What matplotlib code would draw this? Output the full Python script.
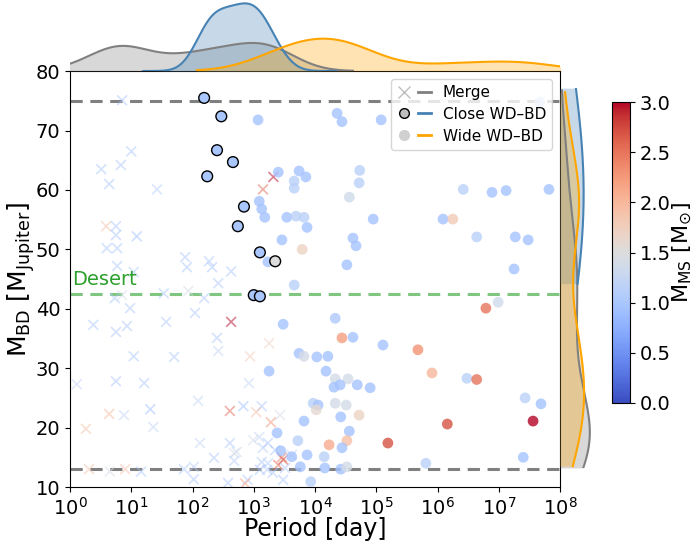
import numpy as np
import matplotlib
matplotlib.use('Agg')
import matplotlib.pyplot as plt
from matplotlib.lines import Line2D
from matplotlib.legend_handler import HandlerTuple
from matplotlib.ticker import LogLocator

# log10(period/day), M_BD [M_Jup], M_MS [M_sun]
merge_logP = [0.85, 1.00, 0.51, 0.83, 0.64, 1.42, 0.59, 0.75, 0.75, 1.09, 0.60, 0.77, 0.77, 1.04,
              1.88, 1.91, 2.27, 2.32, 2.63, 2.42, 0.73, 0.85, 0.98, 1.53, 1.93, 2.19, 0.38, 0.75,
              0.93, 1.57, 2.04, 2.63, 2.40, 2.42, 1.04, 1.70, 0.11, 0.75, 1.21, 2.09, 1.31, 2.61,
              0.64, 0.88, 1.36, 0.26, 2.12, 2.61, 2.35, 2.68, 2.68, 0.31, 0.65, 0.90, 1.16, 1.86,
              2.02, 2.02, 3.32, 3.15, 3.25, 2.94, 2.92, 2.83, 3.13, 3.04, 3.28, 3.43, 2.99, 3.09,
              3.23, 3.15, 3.35, 3.46, 3.48, 3.40, 3.13, 3.23, 3.10, 3.22, 3.31, 3.48, 2.90, 2.86,
              3.62, 3.51, 2.72, 2.58]
merge_mbd = [75.1, 66.5, 63.5, 64.2, 61.0, 60.1, 53.9, 53.9, 52.4, 52.2, 50.2, 50.2, 47.2, 46.2,
             48.7, 47.0, 48.0, 47.0, 46.3, 44.3, 41.8, 42.3, 40.1, 42.6, 43.0, 41.8, 37.3, 36.1,
             37.1, 37.8, 39.3, 37.8, 35.1, 32.9, 32.0, 31.9, 27.3, 27.8, 27.5, 24.5, 23.1, 22.8,
             22.3, 22.1, 20.1, 19.8, 17.4, 17.4, 14.9, 15.7, 14.4, 13.0, 12.6, 13.0, 12.6, 13.0,
             13.4, 11.3, 62.2, 60.1, 34.2, 32.0, 27.5, 23.6, 23.6, 22.6, 20.9, 22.1, 17.9, 18.4,
             17.4, 16.6, 16.2, 15.0, 14.6, 13.7, 14.2, 14.0, 12.9, 12.9, 12.4, 11.2, 11.2, 10.6,
             15.4, 13.2, 15.9, 10.7]
merge_mms = [1.0, 1.0, 1.0, 1.0, 1.0, 1.1, 1.9, 1.0, 1.0, 0.9, 1.0, 1.0, 1.0, 1.0,
             1.0, 1.0, 1.0, 1.0, 1.0, 1.0, 1.0, 1.4, 1.0, 1.0, 1.4, 1.0, 1.0, 1.0,
             1.0, 1.0, 1.0, 3.0, 1.0, 1.2, 1.0, 1.0, 1.2, 1.0, 1.0, 1.2, 0.9, 2.6,
             2.0, 1.2, 1.2, 1.9, 1.2, 1.0, 1.0, 1.4, 1.1, 1.9, 1.4, 1.9, 1.0, 1.0,
             1.1, 1.0, 3.0, 2.6, 1.7, 1.8, 1.2, 0.9, 1.0, 1.9, 2.3, 1.4, 1.4, 1.2,
             1.0, 1.1, 1.0, 2.5, 2.7, 2.6, 1.0, 1.1, 1.0, 1.1, 1.0, 1.0, 1.0, 2.2,
             1.2, 1.0, 1.3, 1.0]

close_logP = [2.19, 2.47, 2.40, 2.66, 2.24, 2.74, 2.84, 3.10, 3.35, 3.00, 3.10]
close_mbd = [75.5, 72.4, 66.7, 64.7, 62.3, 53.9, 57.2, 49.5, 48.0, 42.3, 42.1]
close_mms = [1.0, 1.0, 1.0, 1.0, 1.0, 1.0, 1.0, 1.0, 1.5, 1.0, 1.0]

wide_logP = [3.07, 4.36, 4.44, 5.08, 3.40, 3.74, 3.85, 4.73, 3.66, 3.66, 4.72, 4.56, 3.09, 3.13,
             3.18, 3.54, 3.69, 3.82, 3.87, 4.95, 3.46, 4.62, 4.67, 3.79, 3.23, 4.52, 6.42, 6.89,
             7.12, 7.82, 6.09, 6.25, 6.64, 7.27, 7.48, 7.25, 6.99, 6.79, 3.66, 3.48, 4.33, 4.44,
             4.62, 5.11, 3.74, 3.82, 4.03, 4.21, 3.25, 4.18, 4.33, 4.54, 4.31, 4.41, 4.69, 4.90,
             3.97, 4.05, 4.02, 4.33, 4.51, 4.72, 4.42, 3.82, 4.56, 3.38, 3.72, 4.23, 4.52, 4.44,
             5.19, 3.44, 3.62, 3.87, 4.15, 3.76, 4.16, 4.42, 4.52, 3.93, 5.68, 5.91, 6.48, 6.64,
             7.43, 7.69, 7.56, 6.16, 5.81, 7.40, 7.67]
wide_mbd = [71.8, 72.9, 71.5, 71.8, 63.0, 63.2, 62.2, 63.3, 61.5, 60.3, 61.2, 58.8, 58.1, 56.8,
            55.4, 55.4, 55.6, 55.4, 53.7, 55.1, 51.6, 51.9, 50.6, 50.0, 47.9, 47.4, 60.1, 59.6,
            59.9, 60.1, 55.1, 55.1, 52.1, 52.1, 51.6, 46.7, 41.1, 40.1, 44.0, 37.4, 38.4, 35.1,
            35.2, 33.9, 32.5, 32.0, 31.9, 32.0, 29.5, 29.5, 28.2, 28.2, 26.8, 27.2, 27.2, 26.7,
            24.1, 23.8, 23.0, 24.1, 23.8, 22.1, 21.8, 21.1, 19.4, 19.1, 17.8, 17.1, 17.8, 16.6,
            17.4, 16.1, 15.1, 15.4, 15.1, 13.4, 13.2, 13.0, 13.4, 10.9, 33.1, 29.2, 28.3, 28.1,
            25.0, 24.0, 21.1, 20.6, 14.0, 15.0, 74.8]
wide_mms = [0.95, 0.95, 0.95, 0.95, 0.95, 0.95, 0.95, 1.15, 1.15, 1.15, 1.15, 1.35, 0.95, 0.95,
            0.95, 0.95, 1.15, 1.15, 0.95, 0.95, 0.95, 0.95, 0.95, 1.7, 0.95, 0.95, 1.15, 0.95,
            0.95, 0.95, 0.95, 1.8, 1.15, 0.95, 0.95, 0.95, 1.35, 2.5, 1.15, 0.95, 1.05, 2.2,
            0.95, 0.95, 0.95, 1.4, 0.95, 0.95, 0.95, 0.95, 1.4, 1.4, 0.95, 0.95, 0.95, 0.95,
            1.15, 0.95, 1.6, 1.4, 1.4, 1.7, 0.95, 0.95, 0.95, 0.95, 1.15, 2.1, 1.9, 0.95,
            2.7, 0.95, 0.95, 0.95, 1.15, 0.95, 0.95, 0.95, 1.4, 1.15, 2.3, 2.0, 1.15, 2.5,
            1.15, 0.95, 3.0, 2.7, 1.15, 0.95, 1.15]

desert = 42.5
merge_limits = [13, 75]


def kde(vals, grid, adjust=1.0):
    vals = np.asarray(vals)
    bw = adjust * vals.std(ddof=1) * len(vals) ** (-1 / 5)
    z = (grid[:, None] - vals[None, :]) / bw
    return np.exp(-0.5 * z ** 2).sum(1) / (len(vals) * bw * np.sqrt(2 * np.pi))


cmap = plt.get_cmap('coolwarm')
norm = plt.Normalize(0, 3)

fig = plt.figure(figsize=(6.96, 5.45), dpi=100)
ax = fig.add_axes([0.1006, 0.1064, 0.704, 0.763])
ax_top = fig.add_axes([0.1006, 0.8697, 0.704, 0.1303])
ax_right = fig.add_axes([0.8046, 0.1413, 0.06, 0.697])
cax = fig.add_axes([0.879, 0.2606, 0.026, 0.552])

ax.scatter(10 ** np.array(merge_logP), merge_mbd, c=merge_mms, cmap=cmap, norm=norm,
           marker='x', s=50, linewidths=1.2, alpha=0.5, zorder=2)
ax.scatter(10 ** np.array(wide_logP), wide_mbd, c=wide_mms, cmap=cmap, norm=norm,
           marker='o', s=60, edgecolors='none', alpha=0.8, zorder=3)
ax.scatter(10 ** np.array(close_logP), close_mbd, c=close_mms, cmap=cmap, norm=norm,
           marker='o', s=60, edgecolors='black', linewidths=1, zorder=4)

for yv in merge_limits:
    ax.axhline(yv, color='gray', ls='--', lw=2.2, dashes=(4, 2.5), zorder=1)
ax.axhline(desert, color='tab:green', ls='--', lw=2.2, dashes=(4, 2.5), alpha=0.6, zorder=1)
ax.text(1.1, desert + 0.8, 'Desert', color='tab:green', fontsize=14, va='bottom')

ax.set_xscale('log')
ax.set_xlim(1, 1e8)
ax.set_ylim(10, 80)
ax.xaxis.set_major_locator(LogLocator(base=10, numticks=12))
ax.set_xlabel('Period [day]', fontsize=17, labelpad=-1)
ax.set_ylabel(r'$\mathrm{M_{BD}}$ [$\mathrm{M_{Jupiter}}$]', fontsize=18, labelpad=-1)
ax.tick_params(labelsize=14)

handles = [(Line2D([], [], marker='x', ls='none', color='gray', alpha=0.5, markersize=8),
            Line2D([], [], color='gray', lw=2)),
           (Line2D([], [], marker='o', ls='none', mfc='#bfbfbf', mec='black', markersize=7),
            Line2D([], [], color='steelblue', lw=2)),
           (Line2D([], [], marker='o', ls='none', mfc='#d0d0d0', mec='none', markersize=8),
            Line2D([], [], color='orange', lw=2))]
ax.legend(handles, ['Merge', 'Close WD–BD', 'Wide WD–BD'], loc='upper right',
          handler_map={tuple: HandlerTuple(ndivide=None, pad=0.5)}, fontsize=11,
          handlelength=2.2, handletextpad=0.8, labelspacing=0.45)

# marginal KDEs
groups = [(merge_logP, merge_mbd, 'gray', 1.0), (close_logP, close_mbd, 'steelblue', 2.2),
          (wide_logP, wide_mbd, 'orange', 1.0)]
dmax = 0
for lp, mb, col, adj in groups:
    gx = np.linspace(min(lp) - 1, max(lp) + 1, 300)
    dx = kde(lp, gx)
    ax_top.fill_between(gx, dx, color=col, alpha=0.3, lw=0)
    ax_top.plot(gx, dx, color=col, lw=1.5)
    gy = np.linspace(min(mb), max(mb), 300)
    dy = kde(mb, gy, adj)
    dmax = max(dmax, dy.max())
    ax_right.fill_betweenx(gy, dy, color=col, alpha=0.3, lw=0)
    ax_right.plot(dy, gy, color=col, lw=1.5)
ax_top.set_xlim(0, 8)
ax_top.set_ylim(bottom=0)
ax_top.axis('off')
all_mbd = merge_mbd + close_mbd + wide_mbd
ax_right.set_ylim(min(all_mbd), max(all_mbd))
ax_right.set_xlim(0, dmax * 1.4)
ax_right.axis('off')

sm = plt.cm.ScalarMappable(cmap=cmap, norm=norm)
cb = fig.colorbar(sm, cax=cax)
cb.set_ticks(np.arange(0, 3.01, 0.5))
cb.ax.tick_params(labelsize=14)
cb.set_label(r'$\mathrm{M_{MS}}$ [$\mathrm{M_{\odot}}$]', fontsize=16, labelpad=0)

fig.savefig('out.png', dpi=100)
